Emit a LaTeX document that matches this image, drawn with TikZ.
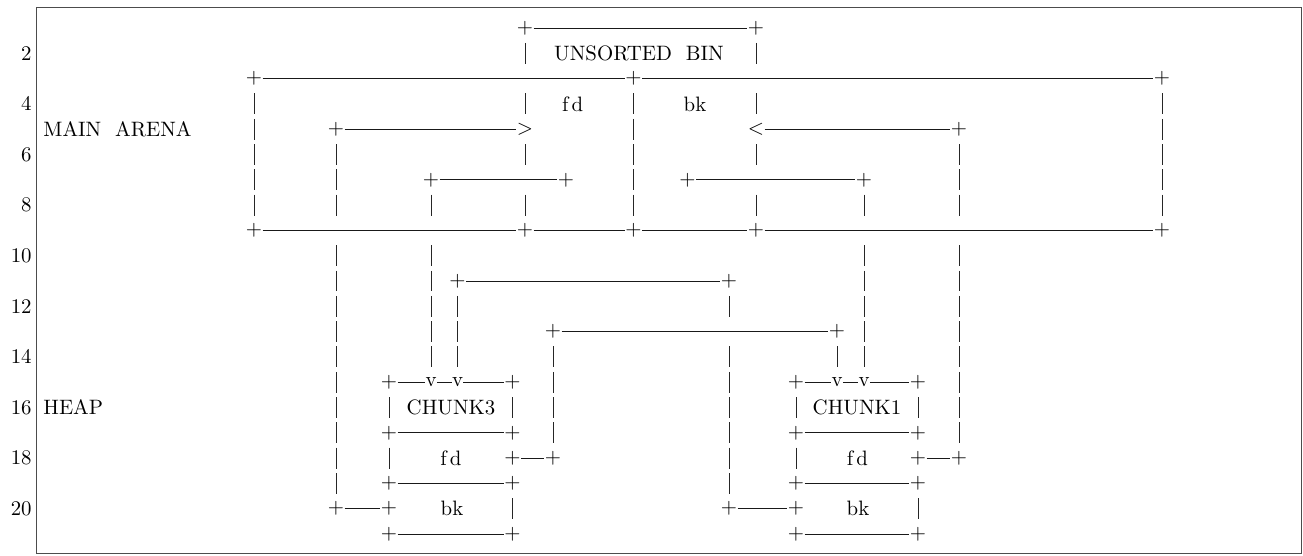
\documentclass[tikz,border=0pt]{standalone}
\usepackage{tikz}

\begin{document}
\begin{tikzpicture}[%
        x=0.48pt,
        y=-12.144pt,
        every node/.style={inner sep=0pt},
        rail/.style={%
          line width=0.45pt,
          black!90
        },
        wall/.style={%
          line width=0.4pt,
          black!85,
          dash pattern=on 10pt off 2.144pt,
          shorten <=7.144pt,
          shorten >=7.144pt
        },
        lineno/.style={anchor=east}
      ]
      \useasboundingbox (0,-0.107) rectangle (1303,21.83);
      \draw[line width=0.4pt,black!70] (36,0.17) rectangle (1301,21.75);
      \foreach \n in {2,4,...,20}
        \node[lineno] (n\n) at (32,\n) {\n};

      % main arena
      \node (p1a) at (525,1) {+};
      \node (p1b) at (756,1) {+};
      \node (bin) at (639,2) {UNSORTED~~BIN};
      \node (p3a) at (254,3) {+};
      \node (p3b) at (633.5,3) {+};
      \node (p3c) at (1162,3) {+};
      \coordinate (x3a) at (525,3);
      \coordinate (x3b) at (756,3);
      \node (fd) at (572.7,4) {f\kern1.5pt d};
      \node (bk) at (695,4) {bk};
      \node[anchor=west] (arena) at (43,5) {MAIN~~ARENA};
      \node (p5a) at (336,5) {+};
      \node (gt) at (525,5) {$>$};
      \node (lt) at (756,5) {$<$};
      \node (p5b) at (959,5) {+};
      \node (p7a) at (431,7) {+};
      \node (p7b) at (566,7) {+};
      \node (p7c) at (687.5,7) {+};
      \node (p7d) at (864,7) {+};
      \coordinate (x7a) at (525,7);
      \coordinate (x7b) at (756,7);
      \node (p9a) at (254,9) {+};
      \node (p9b) at (525,9) {+};
      \node (p9c) at (633.5,9) {+};
      \node (p9d) at (756,9) {+};
      \node (p9e) at (1162,9) {+};
      \coordinate (x9a) at (336,9);
      \coordinate (x9b) at (431,9);
      \coordinate (x9c) at (864,9);
      \coordinate (x9d) at (959,9);

      % heap
      \node (p11a) at (457.5,11) {+};
      \node (p11b) at (729,11) {+};
      \node (p13a) at (553,13) {+};
      \node (p13b) at (837,13) {+};
      \coordinate (x13) at (729,13);
      \node (p15a) at (389,15) {+};
      \node (v15a) at (431,15) {v};
      \node (v15b) at (457.5,15) {v};
      \node (p15b) at (512.5,15) {+};
      \node (p15c) at (796,15) {+};
      \node (v15c) at (837,15) {v};
      \node (v15d) at (864,15) {v};
      \node (p15d) at (918,15) {+};
      \node[anchor=west] (heap) at (43,16) {HEAP};
      \node (chunk3) at (451,16) {CHUNK3};
      \node (chunk1) at (857,16) {CHUNK1};
      \node (p17a) at (389,17) {+};
      \node (p17b) at (512.5,17) {+};
      \node (p17c) at (796,17) {+};
      \node (p17d) at (918,17) {+};
      \node (fd3) at (451,18) {f\kern1.5pt d};
      \node (fd1) at (857.5,18) {f\kern1.5pt d};
      \node (p18a) at (512.5,18) {+};
      \node (p18b) at (553,18) {+};
      \node (p18c) at (918,18) {+};
      \node (p18d) at (959,18) {+};
      \node (p19a) at (389,19) {+};
      \node (p19b) at (512.5,19) {+};
      \node (p19c) at (796,19) {+};
      \node (p19d) at (918,19) {+};
      \node (p20a) at (336,20) {+};
      \node (p20b) at (389,20) {+};
      \node (bk3) at (452,20) {bk};
      \node (p20c) at (729,20) {+};
      \node (p20d) at (796,20) {+};
      \node (bk1) at (858,20) {bk};
      \node (p21a) at (389,21) {+};
      \node (p21b) at (512.5,21) {+};
      \node (p21c) at (796,21) {+};
      \node (p21d) at (918,21) {+};

      \path[rail] (p1a) edge (p1b)
      (p3a) edge (p3b) (p3b) edge (p3c)
      (p5a) edge (gt) (lt) edge (p5b)
      (p7a) edge (p7b) (p7c) edge (p7d)
      (p9a) edge (p9b) (p9b) edge (p9c) (p9c) edge (p9d) (p9d) edge (p9e)
      (p11a) edge (p11b)
      (p13a) edge (p13b)
      (p15a) edge (v15a) (v15a) edge (v15b) (v15b) edge (p15b)
      (p15c) edge (v15c) (v15c) edge (v15d) (v15d) edge (p15d)
      (p17a) edge (p17b) (p17c) edge (p17d)
      (p18a) edge (p18b) (p18c) edge (p18d)
      (p19a) edge (p19b) (p19c) edge (p19d)
      (p20a) edge (p20b) (p20c) edge (p20d)
      (p21a) edge (p21b) (p21c) edge (p21d);

      \path[wall] (p1a.center) edge (x3a)
      (x3a) edge (gt.center)
      (gt.center) edge (x7a)
      (x7a) edge (p9b.center)
      (p1b.center) edge (x3b)
      (x3b) edge (lt.center)
      (lt.center) edge (x7b)
      (x7b) edge (p9d.center)
      (p3a.center) edge (p9a.center)
      (p3b.center) edge (p9c.center)
      (p3c.center) edge (p9e.center)
      (p5a.center) edge (x9a)
      (x9a) edge (p20a.center)
      (p5b.center) edge (x9d)
      (x9d) edge (p18d.center)
      (p7a.center) edge (x9b)
      (x9b) edge (v15a.center)
      (p7d.center) edge (x9c)
      (x9c) edge (v15d.center)
      (p11a.center) edge (v15b.center)
      (p11b.center) edge (x13)
      (x13) edge (p20c.center)
      (p13a.center) edge (p18b.center)
      (p13b.center) edge (v15c.center)
      (p15a.center) edge (p17a.center)
      (p17a.center) edge (p19a.center)
      (p15b.center) edge (p17b.center)
      (p19b.center) edge (p21b.center)
      (p15c.center) edge (p17c.center)
      (p17c.center) edge (p19c.center)
      (p15d.center) edge (p17d.center)
      (p19d.center) edge (p21d.center);
  \end{tikzpicture}
\end{document}
